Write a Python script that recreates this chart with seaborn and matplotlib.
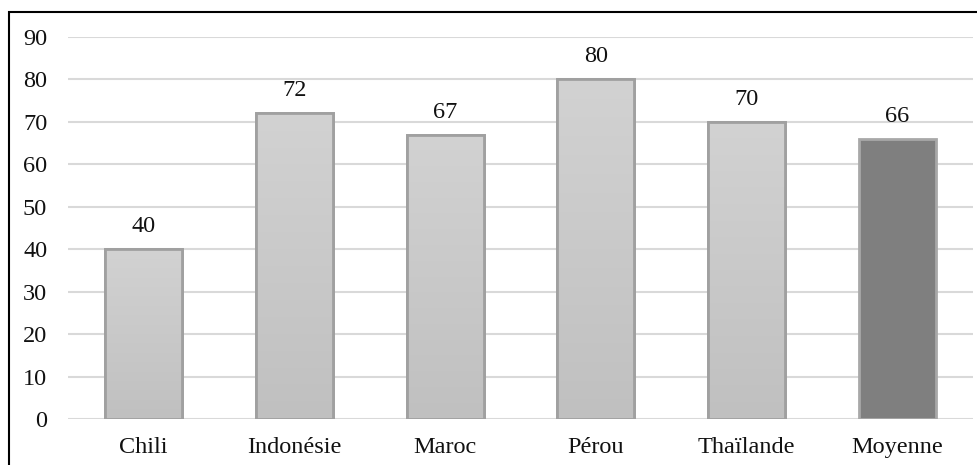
import numpy as np
import pandas as pd
import matplotlib
matplotlib.use("Agg")
import matplotlib.pyplot as plt
import seaborn as sns
from matplotlib.patches import Rectangle
from matplotlib.colors import LinearSegmentedColormap

categories = ["Chili", "Indonésie", "Maroc", "Pérou", "Thaïlande", "Moyenne"]
values = [40, 72, 67, 80, 70, 66]
yticks = [0, 10, 20, 30, 40, 50, 60, 70, 80, 90]

df = pd.DataFrame({"pays": categories, "valeur": values})

sns.set_theme(style="white")
plt.rcParams["font.family"] = ["Liberation Serif", "DejaVu Serif"]

FS = 17.5
W, H = 977, 465
fig = plt.figure(figsize=(W / 100, H / 100), dpi=100)
ax = fig.add_axes([68 / W, 46 / H, (973 - 68) / W, (419 - 37) / H])

palette = ["#c8c8c8"] * 5 + ["#7f7f7f"]
sns.barplot(data=df, x="pays", y="valeur", hue="pays", palette=palette,
            legend=False, width=0.51, ax=ax, zorder=2)

ax.set_xlim(-0.5, len(categories) - 0.5)
ax.set_ylim(0, 90)
ax.set_yticks(yticks)
ax.yaxis.grid(True, color="#d9d9d9", linewidth=1.5, zorder=0)
ax.set_axisbelow(True)
for s in ax.spines.values():
    s.set_visible(False)
ax.set_xlabel("")
ax.set_ylabel("")
ax.tick_params(axis="y", length=0, pad=15, labelsize=FS, labelcolor="#111111")
ax.tick_params(axis="x", length=0, pad=13, labelsize=FS, labelcolor="#111111")

# light vertical gradient on the grey bars, flat fill on the average bar
grad = LinearSegmentedColormap.from_list("g", ["#c0c0c0", "#d2d2d2"])
for i, bar in enumerate(ax.patches):
    x0, y0 = bar.get_x(), bar.get_y()
    w, h = bar.get_width(), bar.get_height()
    if categories[i] == "Moyenne":
        bar.set_edgecolor("#a8a8a8")
    else:
        bar.set_edgecolor("#a0a0a0")
        img = ax.imshow(np.linspace(0, 1, 256).reshape(-1, 1), cmap=grad,
                        origin="lower", aspect="auto",
                        extent=[x0, x0 + w, y0, y0 + h], zorder=2.1)
        img.set_clip_path(bar)
        ax.add_patch(Rectangle((x0, y0), w, h, fill=False,
                               edgecolor="#a0a0a0", linewidth=2, zorder=2.2))
    bar.set_linewidth(2)
    ax.text(bar.get_x() + w / 2, values[i] + 4.0, f"{values[i]}",
            ha="center", va="baseline", fontsize=FS, color="#111111")

ax.set_xlim(-0.5, len(categories) - 0.5)
ax.set_ylim(0, 90)

# outer chart frame
fig.patches.append(Rectangle((8.5 / W, -0.1), 1.2, (H - 12.5) / H + 0.1,
                             transform=fig.transFigure, fill=False,
                             edgecolor="#000000", linewidth=1.5))

fig.savefig("out.png", dpi=100)
